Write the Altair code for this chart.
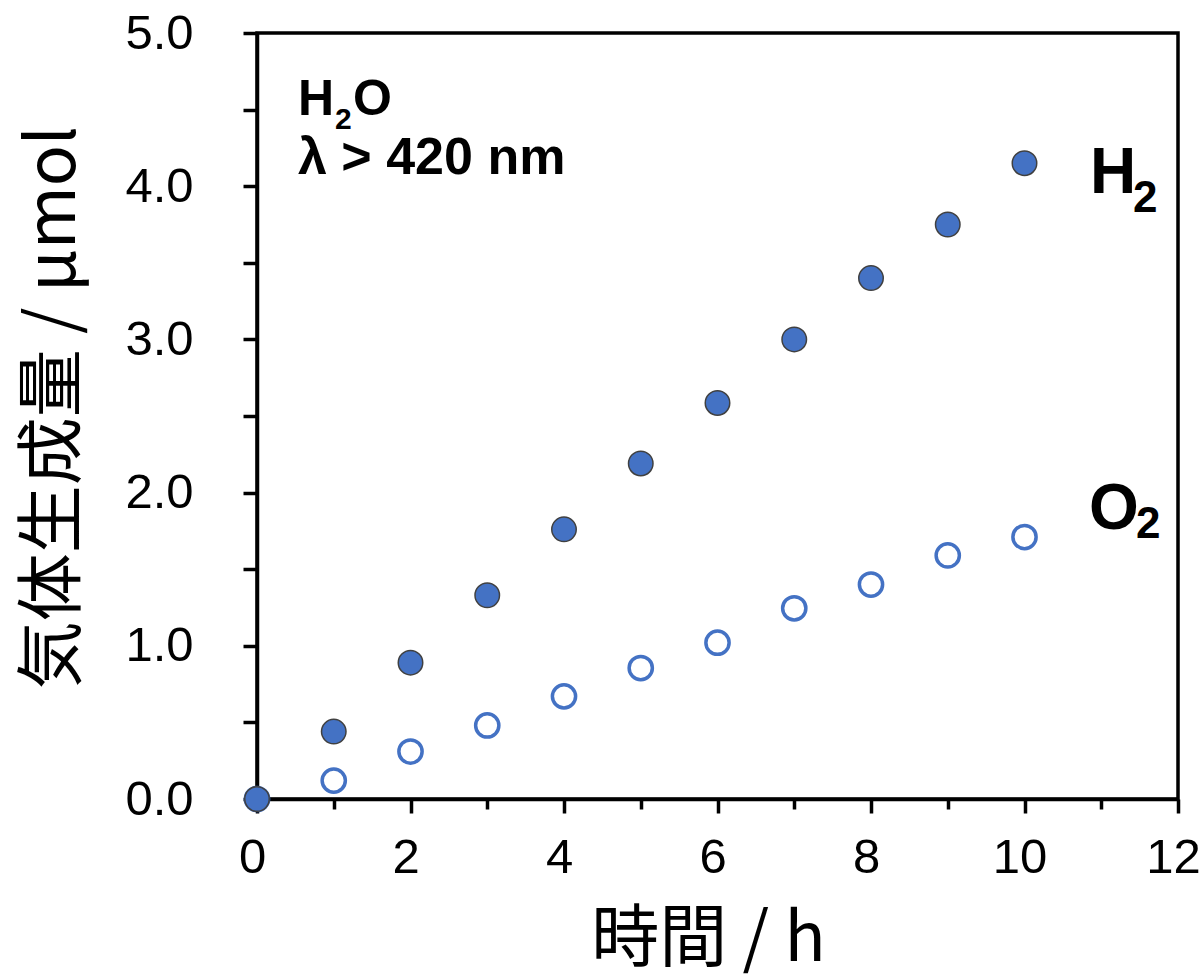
import altair as alt
import pandas as pd

# ---- data ----
time_h = [0, 1, 2, 3, 4, 5, 6, 7, 8, 9, 10]
h2_umol = [0.0, 0.44, 0.89, 1.33, 1.76, 2.19, 2.585, 3.0, 3.40, 3.75, 4.15]
o2_umol = [0.0, 0.12, 0.31, 0.48, 0.67, 0.855, 1.02, 1.245, 1.40, 1.59, 1.71]

x_ticks = list(range(0, 13))
y_ticks = [i * 0.5 for i in range(0, 11)]

h2_df = pd.DataFrame({"time": time_h, "amount": h2_umol})
o2_df = pd.DataFrame({"time": time_h, "amount": o2_umol})

BLUE = "#4472C4"
LABEL_FONT = "Liberation Sans"
CJK_FONT = "Noto Sans CJK JP"

x_enc = alt.X(
    "time:Q",
    scale=alt.Scale(domain=[0, 12], nice=False, zero=False),
    axis=alt.Axis(
        values=x_ticks,
        format="d",
        labelExpr="datum.value % 2 === 0 ? datum.label : ''",
        title="時間 / h",
        grid=False,
        tickSize={"condition": {"test": "datum.value % 2 === 0", "value": 14}, "value": 10},
        labelPadding=20,
        labelFlush=False,
        labelOffset=-5,
        titleX=451,
        titleY=141,
        titleBaseline="middle",
    ),
)
y_enc = alt.Y(
    "amount:Q",
    scale=alt.Scale(domain=[0, 5], nice=False, zero=False),
    axis=alt.Axis(
        values=y_ticks,
        format=".1f",
        labelExpr="datum.value % 1 === 0 ? datum.label : ''",
        title="気体生成量 / μmol",
        grid=False,
        tickSize=14,
        labelPadding=50,
        labelFlush=False,
        titleX=-203,
        titleY=374,
        titleBaseline="middle",
        titleAngle=-90,
    ),
)

o2_layer = alt.Chart(o2_df).mark_point(
    shape="circle", filled=True, fill="white", stroke=BLUE,
    strokeWidth=3.5, size=540, opacity=1,
).encode(x=x_enc, y=y_enc)

h2_layer = alt.Chart(h2_df).mark_point(
    shape="circle", filled=True, fill=BLUE, stroke="#404040",
    strokeWidth=1.5, size=600, opacity=1,
).encode(x="time:Q", y="amount:Q")


def label(text, px, py, size, weight="bold", style="normal"):
    return alt.Chart(pd.DataFrame({"t": [text]})).mark_text(
        font=LABEL_FONT, fontSize=size, fontWeight=weight, fontStyle=style,
        align="left", baseline="alphabetic", color="black",
    ).encode(text="t:N", x=alt.value(px), y=alt.value(py))


# annotation pieces (pixel positions inside the plot area)
annotations = [
    label("H", 41, 82, 50),
    label("2", 78, 96, 30),
    label("O", 96, 82, 50),
    label("λ > 420 nm", 41, 141, 52),
    label("H", 833, 160, 64),
    label("2", 876, 179, 44),
    label("O", 832, 496, 64),
    label("2", 879, 505, 44),
]

chart = alt.layer(o2_layer, h2_layer, *annotations).properties(
    width=921,
    height=766,
    autosize=alt.AutoSizeParams(type="none"),
    padding={"left": 257, "top": 33, "right": 24, "bottom": 176},
).configure_view(
    stroke="black", strokeWidth=3.5,
).configure_axis(
    domainColor="black", domainWidth=3.5,
    tickColor="black", tickWidth=3.5,
    labelFont=LABEL_FONT, labelFontSize=49, labelColor="black",
    titleFont=CJK_FONT, titleFontSize=68, titleFontWeight="normal", titleColor="black",
)

chart.save("out.html", embed_options={"renderer": "svg", "actions": False})
